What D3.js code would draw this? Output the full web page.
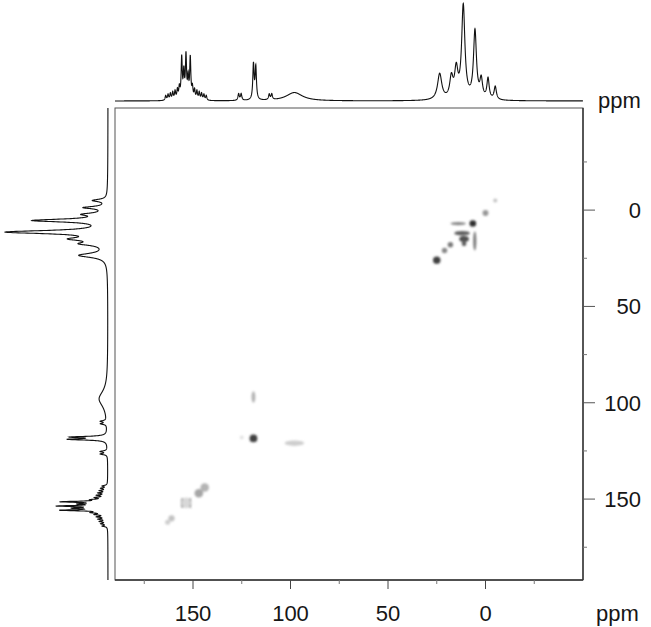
<!DOCTYPE html>
<meta charset="utf-8">
<head>
    <title></title>
    <script src="https://cdn.jsdelivr.net/npm/d3@7"></script>
</head>
<style>
    body{ margin:0; background:#fff; }
    text{
      font-family: "Liberation Sans", Arial, sans-serif;
      font-size:22px;
      fill:#161616;
    }
</style>
<svg width="651" height="627"></svg>

<script>
    // 1D projection: peaks (ppm, relative height, half width in ppm)
    var peakPpm    = [164.0,162.8,161.6,160.4,159.2,158.0,157.0,155.8,154.7,153.6,152.5,151.4,150.3,149.2,148.0,146.8,145.6,144.4,143.2,
                      126.6,125.3,119.0,117.8,110.9,109.6,98.0,
                      23.5,17.5,15.0,11.4,5.4,2.2,-1.3,-5.0];
    var peakHeight = [5,6,7,8,9,10,12,44,28,46,22,44,12,10,9,8,7,6,5,
                      7,7,38,35,6,6,9,
                      28,22,30,100,73,20,22,14];
    var peakWidth  = [0.35,0.35,0.35,0.35,0.35,0.35,0.35,0.35,0.35,0.35,0.35,0.35,0.35,0.35,0.35,0.35,0.35,0.35,0.35,
                      0.4,0.4,0.4,0.4,0.4,0.4,5,
                      1.3,1.0,1.0,1.0,0.9,0.8,0.7,0.7];

    // 2D cross peaks: f2 ppm, f1 ppm, radius f2, radius f1, darkness
    var cpX    = [-5, 0, 6.5, 14, 12, 11, 11, 5.5, 18, 21, 25,
                  119, 119, 98, 125, 144, 147, 151.5, 153.5, 155.5, 153.5, 161, 163];
    var cpY    = [-5, 1.5, 7, 7, 12, 15, 17.5, 16, 18, 21, 26,
                  97, 118.5, 121, 118, 144, 147, 152, 152, 152, 152, 160, 162];
    var cpRx   = [1, 1.5, 1.7, 4, 4, 2.5, 1.2, 0.8, 1.4, 1.4, 1.9,
                  1, 2, 5, 1, 2.2, 2.2, 0.55, 0.55, 0.55, 2.4, 1.6, 1.3];
    var cpRy   = [1, 1.5, 1.7, 0.8, 1.2, 1.5, 1.2, 5, 1.4, 1.4, 1.9,
                  3, 2, 1.4, 1, 2.2, 2.2, 2.6, 2.6, 2.6, 2.8, 1.6, 1.3];
    var cpDark = [0.35, 0.5, 0.85, 0.55, 0.7, 0.75, 0.7, 0.6, 0.6, 0.55, 0.8,
                  0.4, 0.8, 0.3, 0.2, 0.4, 0.45, 0.7, 0.7, 0.7, 0.25, 0.35, 0.3];

    var majorTicks = [150, 100, 50, 0],
        minorTicks = [175, 125, 75, 25, -25];

    var box = {left:115, right:583, top:108, bottom:580},
        xDomain = [190, -50],
        yDomain = [-53, 192];

    var svg = d3.select('svg');

    var x = d3.scaleLinear().domain(xDomain).range([box.left, box.right]),
        y = d3.scaleLinear().domain(yDomain).range([box.top, box.bottom]);

    // blur to mimic soft contour blobs
    svg.append('defs').append('filter').attr('id','soft')
        .attr('x','-50%').attr('y','-50%').attr('width','200%').attr('height','200%')
        .append('feGaussianBlur').attr('stdDeviation', 1.3);

    // spectrum from peak list
    function specOver(dom){
        return d3.range(dom[0], dom[1], dom[0] > dom[1] ? -0.05 : 0.05).map(function(p){
            var s = 0;
            for(var i=0;i<peakPpm.length;i++){
                var d = (p-peakPpm[i])/peakWidth[i];
                s += peakHeight[i]/(1+d*d);
            }
            return {p:p, v:s};
        });
    }

    var hTop = d3.scaleLinear().domain([0,100]).range([0,93]),
        hLeft = d3.scaleLinear().domain([0,100]).range([0,98]),
        topBase = 101, leftBase = 108;

    svg.append('path')
        .datum(specOver(xDomain))
        .attr('d', d3.line().x(function(d){ return x(d.p); }).y(function(d){ return topBase - hTop(d.v); }))
        .style('fill','none').style('stroke','#111').style('stroke-width',1.1);

    svg.append('path')
        .datum(specOver(yDomain))
        .attr('d', d3.line().y(function(d){ return y(d.p); }).x(function(d){ return leftBase - hLeft(d.v); }))
        .style('fill','none').style('stroke','#111').style('stroke-width',1.1);

    // frame
    svg.append('rect')
        .attr('x', box.left).attr('y', box.top)
        .attr('width', box.right-box.left).attr('height', box.bottom-box.top)
        .style('fill','none').style('stroke','#555').style('stroke-width',1);

    // cross peaks
    var peaks = svg.append('g').attr('filter','url(#soft)');
    cpX.forEach(function(px,i){
        peaks.append('ellipse')
            .attr('cx', x(px)).attr('cy', y(cpY[i]))
            .attr('rx', Math.abs(x(0)-x(cpRx[i])))
            .attr('ry', Math.abs(y(cpRy[i])-y(0)))
            .style('fill', d3.interpolateGreys(cpDark[i]));
    });

    // bottom axis
    var bottom = svg.append('g').attr('transform','translate(0,'+box.bottom+')');
    bottom.append('line').attr('x1',box.left).attr('x2',box.right)
        .style('stroke','#333').style('stroke-width',1.4);
    bottom.selectAll('.maj').data(majorTicks).enter().append('line')
        .attr('x1', function(d){ return x(d); }).attr('x2', function(d){ return x(d); })
        .attr('y1',0).attr('y2',9).style('stroke','#444');
    bottom.selectAll('.min').data(minorTicks).enter().append('line')
        .attr('x1', function(d){ return x(d); }).attr('x2', function(d){ return x(d); })
        .attr('y1',0).attr('y2',4).style('stroke','#777');
    bottom.selectAll('text').data(majorTicks).enter().append('text')
        .attr('x', function(d){ return x(d); }).attr('y', 41)
        .attr('text-anchor','middle').text(function(d){ return d; });
    bottom.append('text').attr('x',596).attr('y',41).text('ppm');

    // right axis
    var right = svg.append('g').attr('transform','translate('+box.right+',0)');
    right.append('line').attr('y1',box.top).attr('y2',box.bottom)
        .style('stroke','#333').style('stroke-width',1.4);
    right.selectAll('.maj').data(majorTicks).enter().append('line')
        .attr('y1', function(d){ return y(d); }).attr('y2', function(d){ return y(d); })
        .attr('x1',0).attr('x2',12).style('stroke','#555');
    right.selectAll('.min').data(minorTicks).enter().append('line')
        .attr('y1', function(d){ return y(d); }).attr('y2', function(d){ return y(d); })
        .attr('x1',0).attr('x2',4).style('stroke','#777');
    right.selectAll('text').data(majorTicks).enter().append('text')
        .attr('x', 58).attr('y', function(d){ return y(d); })
        .attr('dy','0.36em').attr('text-anchor','end').text(function(d){ return d; });

    svg.append('text').attr('x',598).attr('y',108).text('ppm');
</script>
